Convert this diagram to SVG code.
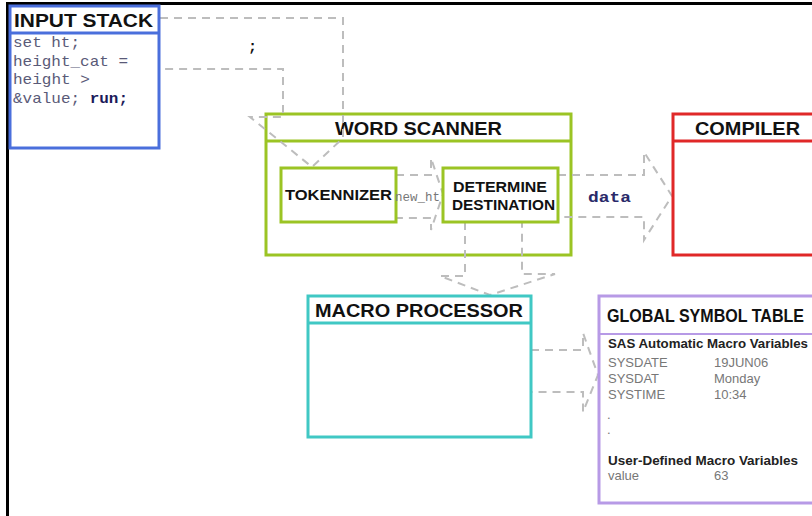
<svg xmlns="http://www.w3.org/2000/svg" width="812" height="516" viewBox="0 0 812 516">
<style>
.box{fill:#fff;stroke-width:3}
.hdr{font-family:"Liberation Sans",Arial,sans-serif;font-weight:bold;font-size:19px;fill:#111}
.sub{font-family:"Liberation Sans",Arial,sans-serif;font-weight:bold;font-size:15px;fill:#111}
.code{font-family:"Liberation Mono","Courier New",monospace;font-size:15px;fill:#5a5a78}
.conn{fill:none;stroke:#bdbdbd;stroke-width:2;stroke-dasharray:8 6}
.gst{font-family:"Liberation Sans",Arial,sans-serif;font-size:13px;fill:#777}
.gstb{font-family:"Liberation Sans",Arial,sans-serif;font-size:13px;font-weight:bold;fill:#222}
</style>
<rect width="812" height="516" fill="#fff"/>
<g id="frame">
<line x1="6" y1="3.5" x2="812" y2="3.5" stroke="#000" stroke-width="3"/>
<line x1="7.5" y1="2" x2="7.5" y2="516" stroke="#000" stroke-width="3"/>
</g>

<g id="word-scanner">
<rect class="box" x="266" y="114" width="305" height="141" stroke="#9bc424"/>
<line x1="266" y1="141" x2="571" y2="141" stroke="#9bc424" stroke-width="3"/>
<text class="hdr" x="335" y="135" textLength="167" lengthAdjust="spacingAndGlyphs">WORD SCANNER</text>
</g>

<g id="connectors">
<path class="conn" d="M160,18 H343 V138 L312,167 L250,117 H283 V69 H163"/>
<path class="conn" d="M396,175 H431 V158 L443,194 L431,230 V218 H396"/>
<path class="conn" d="M558,175 H644 V152 L672,196 L644,240 V217 H558"/>
<path class="conn" d="M465,222 V276 H440 L490,295 L555,274 H522 V222"/>
<path class="conn" d="M531,350 H583 V333 L598,375 L583,412 V392 H531"/>
</g>

<g id="input-stack">
<rect class="box" x="10" y="6" width="149" height="142" stroke="#4a6fdc"/>
<line x1="10" y1="33" x2="159" y2="33" stroke="#4a6fdc" stroke-width="3"/>
<text class="hdr" x="14" y="27" textLength="139" lengthAdjust="spacingAndGlyphs">INPUT STACK</text>
<text class="code" x="13" y="47" textLength="67" lengthAdjust="spacingAndGlyphs">set ht;</text>
<text class="code" x="13" y="66" textLength="115" lengthAdjust="spacingAndGlyphs">height_cat =</text>
<text class="code" x="13" y="84" textLength="77" lengthAdjust="spacingAndGlyphs">height &gt;</text>
<text class="code" x="13" y="103" textLength="115" lengthAdjust="spacingAndGlyphs">&amp;value; <tspan font-weight="bold" fill="#1a1a5a">run;</tspan></text>
</g>

<g id="semicolon">
<text x="248" y="51" font-family="Liberation Mono,monospace" font-size="15" font-weight="bold" fill="#111">;</text>
</g>

<g id="tokennizer">
<rect class="box" x="281" y="168" width="115" height="54" stroke="#9bc424"/>
<text class="sub" x="285" y="200" textLength="107" lengthAdjust="spacingAndGlyphs">TOKENNIZER</text>
</g>

<g id="new-ht-label">
<text x="395" y="201" font-family="Liberation Mono,monospace" font-size="12" fill="#777" textLength="45" lengthAdjust="spacingAndGlyphs">new_ht</text>
</g>

<g id="determine-destination">
<rect class="box" x="443" y="168" width="115" height="54" stroke="#9bc424"/>
<text class="sub" x="453" y="192" textLength="94" lengthAdjust="spacingAndGlyphs">DETERMINE</text>
<text class="sub" x="452" y="210" textLength="103" lengthAdjust="spacingAndGlyphs">DESTINATION</text>
</g>

<g id="data-label">
<text x="588" y="202" font-family="Liberation Mono,monospace" font-size="14" font-weight="bold" fill="#2a2a6a" textLength="43" lengthAdjust="spacingAndGlyphs">data</text>
</g>

<g id="compiler">
<rect class="box" x="673" y="114" width="145" height="141" stroke="#e02828"/>
<line x1="673" y1="141" x2="812" y2="141" stroke="#e02828" stroke-width="3"/>
<text class="hdr" x="695" y="135" textLength="105" lengthAdjust="spacingAndGlyphs">COMPILER</text>
</g>

<g id="macro-processor">
<rect class="box" x="308" y="296" width="223" height="141" stroke="#40c8c4"/>
<line x1="308" y1="323" x2="531" y2="323" stroke="#40c8c4" stroke-width="3"/>
<text class="hdr" x="315" y="317" textLength="208" lengthAdjust="spacingAndGlyphs">MACRO PROCESSOR</text>
</g>

<g id="global-symbol-table">
<rect class="box" x="599" y="296" width="220" height="207" stroke="#b79ae6"/>
<line x1="599" y1="334" x2="812" y2="334" stroke="#b79ae6" stroke-width="2"/>
<text class="hdr" x="607" y="322" font-size="17" textLength="197" lengthAdjust="spacingAndGlyphs">GLOBAL SYMBOL TABLE</text>
<text class="gstb" x="608" y="348" textLength="200" lengthAdjust="spacingAndGlyphs">SAS Automatic Macro Variables</text>
<text class="gst" x="608" y="367">SYSDATE</text>
<text class="gst" x="714" y="367">19JUN06</text>
<text class="gst" x="608" y="383">SYSDAT</text>
<text class="gst" x="714" y="383">Monday</text>
<text class="gst" x="608" y="399">SYSTIME</text>
<text class="gst" x="714" y="399">10:34</text>
<text class="gst" x="607" y="419" fill="#ccc" font-size="10">.</text>
<text class="gst" x="607" y="434" fill="#ccc" font-size="10">.</text>
<text class="gstb" x="608" y="465" textLength="190" lengthAdjust="spacingAndGlyphs">User-Defined Macro Variables</text>
<text class="gst" x="608" y="480">value</text>
<text class="gst" x="714" y="480">63</text>
</g>
</svg>
